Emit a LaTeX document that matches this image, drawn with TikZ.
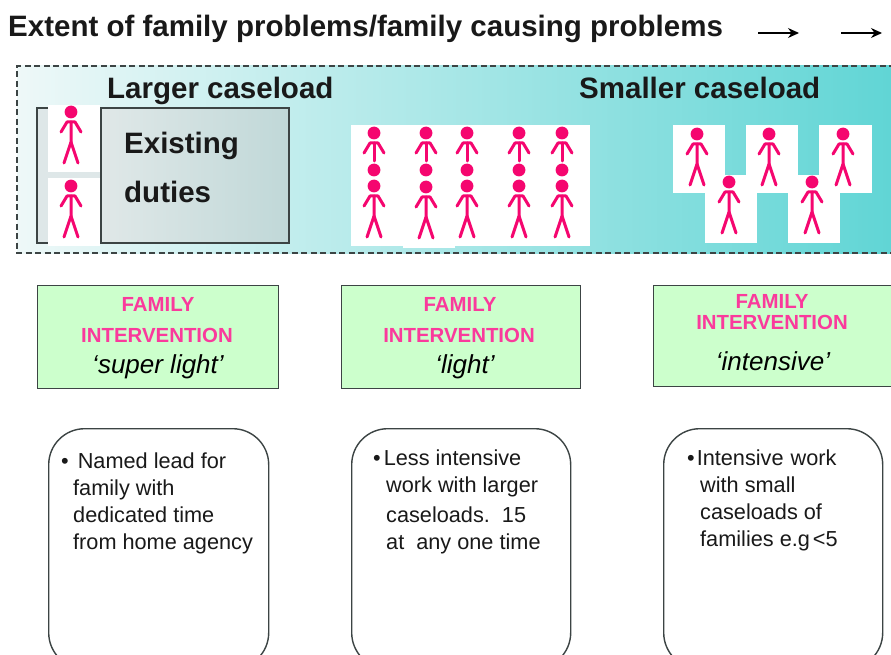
\documentclass[tikz,border=0pt]{standalone}
\usepackage{fontspec}
\setmainfont{Liberation Sans}
\usetikzlibrary{arrows.meta}
\definecolor{pinkfig}{HTML}{F5066F}
\definecolor{pinktxt}{HTML}{FA3A9C}
\definecolor{greenbox}{HTML}{CCFFCC}
\definecolor{darkline}{HTML}{3C4444}
\definecolor{bandl}{HTML}{EEF8F8}
\definecolor{bandm}{HTML}{A6E6E6}
\definecolor{bandr}{HTML}{60D5D5}
\definecolor{bracketgrey}{HTML}{DEE7E8}
\definecolor{dutyl}{HTML}{E0E8E8}
\definecolor{dutyr}{HTML}{C0D8D8}
\tikzset{
  x=1pt,y=-1pt,
  limb/.style={draw=pinkfig,line width=3pt,line cap=round,line join=round},
  blank/.style={fill=white,draw=none},
  heading/.style={font=\fontsize{29.5}{32}\selectfont\bfseries,anchor=base west,inner sep=0pt,text=black!90},
  interbox/.style={draw=darkline,line width=1.2pt,fill=greenbox,anchor=north west,inner sep=0pt},
  pinkline/.style={font=\fontsize{20.4}{24}\selectfont\bfseries,text=pinktxt,inner sep=0pt,anchor=base},
  kindline/.style={font=\fontsize{26}{28}\selectfont\itshape,text=black,inner sep=0pt,anchor=base},
  notebox/.style={draw=darkline,line width=1.4pt,fill=white,rounded corners=36pt,anchor=north west,inner sep=0pt},
  notetext/.style={font=\fontsize{21.7}{27}\selectfont,align=left,anchor=north west,inner sep=0pt,text=black!90},
  flowarrow/.style={-{Stealth[length=11pt,width=10pt]},line width=1.2pt,draw=black}
}
% full figure: x of centre, y of head centre
\newcommand{\stickfull}[2]{%
  \fill[pinkfig] (#1,#2) circle (6.4);
  \draw[limb] (#1-10,#2+20) -- (#1-4,#2+10) -- (#1+4,#2+10) -- (#1+10,#2+20);
  \draw[limb] (#1,#2+10) -- (#1,#2+30) -- (#1-7,#2+51);
  \draw[limb] (#1,#2+30) -- (#1+7,#2+51);
}
% figure hidden below the shoulders by the one in front
\newcommand{\stickpart}[2]{%
  \fill[pinkfig] (#1,#2) circle (6.4);
  \draw[limb] (#1-10,#2+20) -- (#1-4,#2+10) -- (#1+4,#2+10) -- (#1+10,#2+20);
  \draw[limb] (#1,#2+10) -- (#1,#2+28);
}
\begin{document}
\begin{tikzpicture}
\useasboundingbox (0,0) rectangle (891,655);
\clip (0,0) rectangle (891,655);
\fill[white] (0,0) rectangle (891,655);

% title
\node[heading] (title) at (8,37) {Extent of family problems/family causing problems};
\coordinate (a1s) at (758,33); \coordinate (a1e) at (799,33);
\coordinate (a2s) at (841,33); \coordinate (a2e) at (882,33);
\draw[flowarrow] (a1s) -- (a1e);
\draw[flowarrow] (a2s) -- (a2e);

% caseload band
\shade[left color=bandl,middle color=bandm,right color=bandr,draw=none]
  (17,66) rectangle (895,253);
\draw[darkline,line width=1.2pt,dash pattern=on 6pt off 3.5pt] (895,66) -- (17,66) -- (17,253) -- (895,253);

\node[heading] (larger) at (107,99) {Larger caseload};
\node[heading] (smaller) at (579,99) {Smaller caseload};

% existing duties group
\fill[bracketgrey] (37,108) rectangle (101,243);
\draw[darkline,line width=1.4pt] (48,108) -- (37,108) -- (37,243) -- (48,243);
\fill[blank] (48,105) rectangle (100,172);
\fill[blank] (48,178) rectangle (100,246);
\stickfull{71}{112}
\stickfull{71}{186}
\shade[left color=dutyl,right color=dutyr,draw=none] (101,108) rectangle (289,243);
\draw[darkline,line width=1.4pt] (101,108) rectangle (289,243);
\node[heading] (existing) at (124,154) {Existing};
\node[heading] (duties) at (124,203) {duties};

% middle group
\fill[blank] (351,125) rectangle (590,246);
\fill[blank] (403,240) rectangle (455,248);
\foreach \cx/\hy in {374/186,426/187,467/186,519/186,562/186}{
  \stickpart{\cx}{133}
  \fill[pinkfig] (\cx,170) circle (6.4);
  \stickfull{\cx}{\hy}
}

% right group
\fill[blank] (673,125) rectangle (725,193);
\fill[blank] (705,175) rectangle (757,243);
\fill[blank] (746,125) rectangle (798,193);
\fill[blank] (788,175) rectangle (840,243);
\fill[blank] (819,125) rectangle (872,193);
\stickfull{697}{134}
\stickfull{729}{182}
\stickfull{769}{134}
\stickfull{812}{182}
\stickfull{843}{134}

% intervention boxes
\node[interbox,minimum width=241pt,minimum height=103pt] (b1) at (37,285) {};
\node[interbox,minimum width=239pt,minimum height=103pt] (b2) at (341,285) {};
\node[interbox,minimum width=250pt,minimum height=101pt] (b3) at (653,285) {};

\node[pinkline] (b1a) at (158,311) {FAMILY};
\node[pinkline] (b1b) at (157,342) {INTERVENTION};
\node[kindline] (b1c) at (158,373) {‘super light’};
\node[pinkline] (b2a) at (460,311) {FAMILY};
\node[pinkline] (b2b) at (459,342) {INTERVENTION};
\node[kindline] (b2c) at (465,373) {‘light’};
\node[pinkline] (b3a) at (772,308) {FAMILY};
\node[pinkline] (b3b) at (772,329) {INTERVENTION};
\node[kindline] (b3c) at (773,370) {‘intensive’};

% description boxes
\node[notebox,minimum width=220pt,minimum height=240pt] (n1) at (48,428) {};
\node[notebox,minimum width=219pt,minimum height=240pt] (n2) at (351,428) {};
\node[notebox,minimum width=219pt,minimum height=240pt] (n3) at (663,428) {};

\node[notetext] (t1) at (61,453) {•\hspace{9pt}Named lead for\\\hspace*{12pt}family with\\\hspace*{12pt}dedicated time\\\hspace*{12pt}from home agency};
\node[notetext] (t2) at (373,450) {•\hspace{3pt}Less intensive\\\hspace*{13pt}work with larger\\[3pt]\hspace*{13pt}caseloads.\ \ 15\\\hspace*{13pt}at\ \ any one time};
\node[notetext] (t3) at (687,450) {•\hspace{2pt}Intensive\hspace{7pt}work\\\hspace*{13pt}with small\\\hspace*{13pt}caseloads of\\\hspace*{13pt}families e.g\hspace{3pt}<5};
\end{tikzpicture}
\end{document}
